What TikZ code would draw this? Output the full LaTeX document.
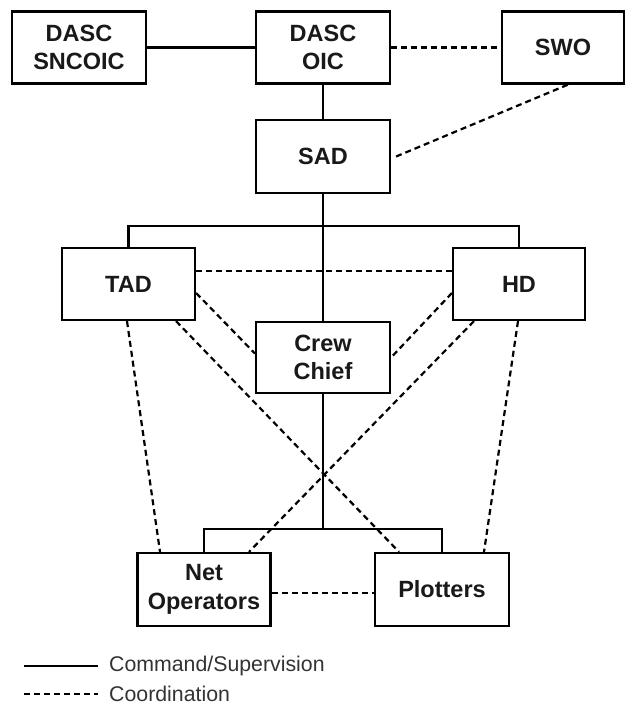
\documentclass[tikz,border=0pt]{standalone}
\usepackage{fontspec}
\setmainfont{Liberation Sans}
\usetikzlibrary{calc}
\tikzset{
  box/.style={draw=black, line width=2.2pt, fill=white, inner sep=0pt, align=center,
    font=\bfseries\fontsize{23.5}{28.5}\selectfont, text=black!90},
  cmd/.style={line width=2.2pt, black},
  coord/.style={line width=2.2pt, black, dash pattern=on 6pt off 4pt},
  legtext/.style={anchor=west, inner sep=0pt, font=\fontsize{21.3}{24}\selectfont, text=black!80}
}
\begin{document}
\begin{tikzpicture}[x=1pt,y=-1pt]
\useasboundingbox (0,0) rectangle (626,705);
% nodes
\node[box, minimum width=134pt, minimum height=72pt] (sncoic) at (79,47.5) {DASC\\SNCOIC};
\node[box, minimum width=134pt, minimum height=72pt] (oic) at (323,47.5) {DASC\\OIC};
\node[box, minimum width=122pt, minimum height=72pt] (swo) at (563,47.5) {SWO};
\node[box, minimum width=134pt, minimum height=73pt] (sad) at (323,156.5) {SAD};
\node[box, minimum width=133pt, minimum height=72pt] (tad) at (128.5,284) {TAD};
\node[box, minimum width=132pt, minimum height=72pt] (hd) at (519,284) {HD};
\node[box, minimum width=134pt, minimum height=71pt] (crew) at (323,357.5) {Crew\\Chief};
\node[box, minimum width=133pt, minimum height=73pt] (net) at (204,589.5) {Net\\Operators};
\node[box, minimum width=134pt, minimum height=73pt] (plot) at (442,589.5) {Plotters};
% command lines
\coordinate (bus1) at (323,226);
\coordinate (bus2) at (323,529);
\draw[cmd] (sncoic.east) -- (oic.west);
\draw[cmd] (oic.south) -- (sad.north);
\draw[cmd] (sad.south) -- (crew.north);
\draw[cmd] (tad.north) |- (bus1) -| (hd.north);
\draw[cmd] (crew.south) -- (bus2);
\draw[cmd] (net.north) |- (bus2) -| (plot.north);
% coordination lines
\draw[coord] (oic.east) -- (swo.west);
\draw[coord] ([xshift=5pt]sad.east) -- ([xshift=5pt]swo.south);
\draw[coord] ([yshift=13pt]tad.east) -- ([yshift=13pt]hd.west);
\draw[coord] ([yshift=-9pt]tad.east) -- ([yshift=4pt]crew.west);
\draw[coord] ([yshift=-9pt]hd.west) -- ([yshift=0pt]crew.east);
\draw[coord] ([xshift=47.5pt]tad.south) -- ([xshift=-43pt]plot.north);
\draw[coord] ([xshift=-45pt]hd.south) -- ([xshift=45pt]net.north);
\draw[coord] ([xshift=-1.5pt]tad.south) -- ([xshift=-44pt]net.north);
\draw[coord] ([xshift=-1pt]hd.south) -- ([xshift=42pt]plot.north);
\draw[coord] ([yshift=-3.5pt]net.east) -- ([yshift=-3.5pt]plot.west);
% legend
\coordinate (l1a) at (24,666);
\coordinate (l1b) at (98,666);
\coordinate (l2a) at (24,694);
\coordinate (l2b) at (98,694);
\draw[cmd] (l1a) -- (l1b);
\draw[coord] (l2a) -- (l2b);
\node[legtext] (t1) at (109,666) {Command/Supervision};
\node[legtext] (t2) at (109,694) {Coordination};
\end{tikzpicture}
\end{document}
